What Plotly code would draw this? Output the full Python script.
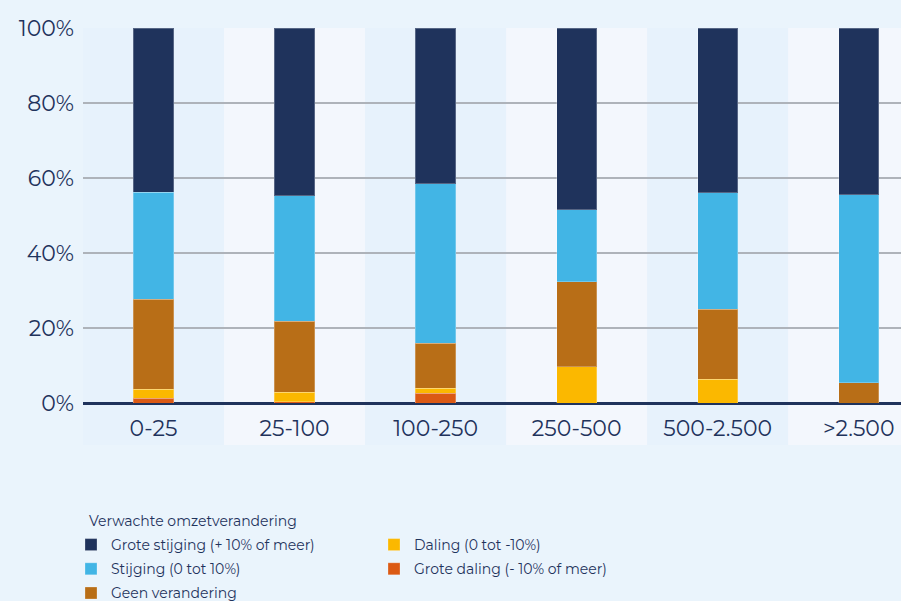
import plotly.graph_objects as go

categories = ["0-25", "25-100", "100-250", "250-500", "500-2.500", ">2.500"]

grote_daling = [1.25, 0.3, 2.6, 0.0, 0.0, 0.0]
daling = [2.4, 2.6, 1.3, 9.7, 6.3, 0.0]
geen_verandering = [24.0, 18.9, 12.0, 22.7, 18.7, 5.4]
stijging = [28.55, 33.5, 42.6, 19.2, 31.1, 50.2]
grote_stijging = [43.8, 44.7, 41.5, 48.4, 43.9, 44.4]

y_ticks = [0, 20, 40, 60, 80, 100]
y_ticklabels = ["0%", "20%", "40%", "60%", "80%", "100%"]
legend_title = "Verwachte omzetverandering"

# (name, values, colour, legend, rank)
series = [
    ("Grote daling (- 10% of meer)", grote_daling, "#db5a14", "legend2", 2),
    ("Daling (0 tot -10%)", daling, "#fbb800", "legend2", 1),
    ("Geen verandering", geen_verandering, "#b86e17", "legend", 3),
    ("Stijging (0 tot 10%)", stijging, "#42b5e5", "legend", 2),
    ("Grote stijging (+ 10% of meer)", grote_stijging, "#1f335c", "legend", 1),
]

navy = "#1f335c"
font_family = "Montserrat, Inter, 'Open Sans', sans-serif"

fig = go.Figure()
for name, vals, color, leg, rank in series:
    fig.add_trace(go.Bar(
        x=categories, y=vals, name=name,
        marker=dict(color=color, line=dict(color="rgba(255,255,255,0.25)", width=1)),
        width=0.285, legend=leg, legendrank=rank, legendgroup=name,
    ))

band_colors = ["#e7f2fc", "#f3f7fd"]
for i, c in enumerate(categories):
    fig.add_shape(type="rect", xref="x", yref="paper",
                  x0=i - 0.5, x1=i + 0.5, y0=-0.112, y1=1.0,
                  fillcolor=band_colors[i % 2], line=dict(width=0), layer="below")

fig.add_annotation(text=legend_title, xref="paper", yref="paper",
                   x=(87 - 83) / 818, y=(403 - 521) / 375,
                   xanchor="left", yanchor="middle", showarrow=False,
                   font=dict(size=14, color=navy))

legend_common = dict(
    orientation="v", xref="container", yref="container",
    xanchor="left", yanchor="top", traceorder="grouped",
    tracegroupgap=3, font=dict(size=14, color=navy),
    bgcolor="rgba(0,0,0,0)", itemclick=False, itemdoubleclick=False,
)

fig.update_layout(
    width=901, height=601,
    barmode="stack",
    paper_bgcolor="#eaf4fc", plot_bgcolor="#eaf4fc",
    margin=dict(l=83, r=0, t=28, b=198, autoexpand=False),
    font=dict(family=font_family, color=navy),
    xaxis=dict(range=[-0.5, 5.3], showgrid=False, ticks="", showline=False,
               tickfont=dict(size=22, color=navy), ticklabelstandoff=10,
               tickangle=0, automargin=False),
    yaxis=dict(range=[0, 100], tickmode="array", tickvals=y_ticks, ticktext=y_ticklabels,
               showgrid=True, gridcolor="#aeb3ba", gridwidth=1.5,
               zeroline=True, zerolinecolor=navy, zerolinewidth=2.5,
               tickfont=dict(size=22, color=navy), ticks="", ticklabelstandoff=8,
               automargin=False),
    legend=dict(legend_common, x=71 / 901, y=1 - 529 / 601),
    legend2=dict(legend_common, x=374 / 901, y=1 - 529 / 601),
    showlegend=True,
)

fig.write_html("out.html", post_script="document.body.style.margin='0';",
               config={"displayModeBar": False})
